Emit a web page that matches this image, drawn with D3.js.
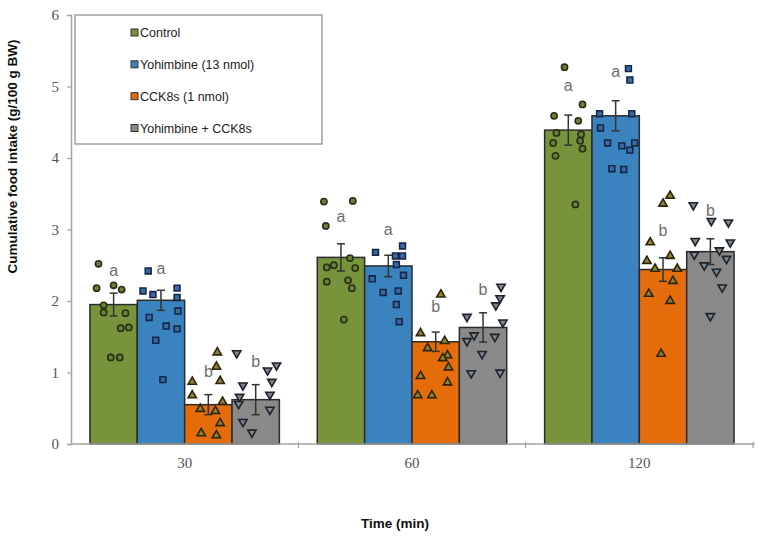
<!DOCTYPE html>
<html>
<head>
<meta charset="utf-8">
<script src="https://cdn.jsdelivr.net/npm/d3@7/dist/d3.min.js"></script>
<style>
  body { margin: 0; background: #fff; }
  svg { display: block; }
</style>
</head>
<body>
<svg id="chart" width="760" height="536"></svg>
<script>
// ---------------- DATA ----------------
const categories = ["30", "60", "120"];
const seriesNames = ["Control", "Yohimbine (13 nmol)", "CCK8s (1 nmol)", "Yohimbine + CCK8s"];
const yTicks = [0, 1, 2, 3, 4, 5, 6];

const controlMean = [1.95, 2.61, 4.39];
const yohimbineMean = [2.01, 2.49, 4.59];
const cck8sMean = [0.55, 1.43, 2.44];
const comboMean = [0.62, 1.63, 2.69];

const controlSem = [0.16, 0.19, 0.21];
const yohimbineSem = [0.14, 0.15, 0.21];
const cck8sSem = [0.14, 0.135, 0.165];
const comboSem = [0.21, 0.205, 0.18];

// individual animals per time point
const controlPoints = [
  [2.52, 2.18, 2.22, 2.16, 1.94, 1.84, 1.83, 1.62, 1.63, 1.21, 1.21],
  [3.39, 3.40, 3.05, 2.60, 2.47, 2.50, 2.46, 2.27, 2.29, 2.18, 1.74],
  [5.27, 4.75, 4.59, 4.52, 4.35, 4.33, 4.21, 4.24, 4.13, 4.03, 3.35]
];
const yohimbinePoints = [
  [2.42, 2.14, 2.09, 2.18, 2.05, 1.86, 1.77, 1.65, 1.61, 1.45, 0.90],
  [2.68, 2.77, 2.63, 2.63, 2.51, 2.36, 2.31, 2.12, 2.14, 1.95, 1.71],
  [5.25, 5.09, 4.62, 4.62, 4.42, 4.21, 4.17, 4.21, 4.11, 3.85, 3.84]
];
const cck8sPoints = [
  [1.28, 1.08, 0.87, 0.88, 0.68, 0.59, 0.49, 0.46, 0.29, 0.15, 0.12],
  [2.09, 1.55, 1.44, 1.34, 1.24, 1.20, 1.07, 0.95, 0.86, 0.68, 0.68],
  [3.47, 3.36, 2.82, 2.56, 2.63, 2.45, 2.45, 2.28, 2.10, 2.00, 1.26]
];
const comboPoints = [
  [1.27, 1.10, 1.03, 0.87, 0.82, 0.69, 0.66, 0.56, 0.48, 0.31, 0.16],
  [2.20, 2.04, 1.94, 1.78, 1.70, 1.52, 1.44, 1.50, 1.26, 0.99, 1.00],
  [3.34, 3.12, 3.10, 2.84, 2.82, 2.71, 2.65, 2.59, 2.50, 2.41, 2.19, 1.79]
];

// horizontal scatter of each point, as a fraction of its bar's width
const controlJitter = [
  [-0.32, -0.36, 0, 0.17, -0.21, -0.21, 0.25, 0.15, 0.32, -0.06, 0.13],
  [-0.36, 0.25, -0.32, 0.19, -0.30, -0.15, 0.30, -0.30, 0.15, 0.23, 0.06],
  [-0.08, 0.30, -0.30, 0.21, -0.25, 0.27, -0.32, 0.25, 0.30, -0.27, 0.15]
];
const yohimbineJitter = [
  [-0.27, -0.38, -0.17, 0.34, 0.34, 0.36, -0.25, 0.11, 0.34, -0.11, 0.04],
  [-0.27, 0.30, 0.15, 0.30, 0.17, 0.32, -0.34, -0.11, 0.21, 0.17, 0.23],
  [0.27, 0.30, -0.34, 0.34, -0.32, -0.17, 0.13, 0.40, 0.30, -0.08, 0.17]
];
const cck8sJitter = [
  [0.19, 0.17, -0.34, 0.25, -0.34, 0.30, -0.17, 0.15, 0.25, -0.15, 0.17],
  [0.11, -0.32, 0.19, -0.17, 0.25, 0.15, 0.27, -0.32, 0.25, -0.38, -0.08],
  [0.15, 0, -0.27, -0.34, 0.15, -0.17, 0.30, 0.21, -0.30, 0.15, -0.04]
];
const comboJitter = [
  [-0.40, 0.44, 0.25, 0.34, -0.27, 0.30, -0.34, -0.36, 0.30, -0.27, -0.08],
  [0.38, 0.36, 0.27, -0.34, 0.42, -0.19, -0.34, 0.25, -0.02, -0.25, 0.36],
  [-0.36, 0.02, 0.38, -0.32, 0.42, 0.19, -0.34, 0.34, -0.13, 0.13, 0.25, 0]
];

// significance letters and the value level at which they sit
const sigLetters = ["a", "a", "b", "b"];
const controlLetterAt = [2.41, 3.16, 5.00];
const yohimbineLetterAt = [2.43, 2.98, 5.19];
const cck8sLetterAt = [0.99, 1.90, 2.97];
const comboLetterAt = [1.13, 2.14, 3.24];

const yTitle = "Cumulative food intake (g/100 g BW)";
const xTitle = "Time (min)";

// ---------------- STYLE ----------------
const barColors = ["#77933c", "#3b83bf", "#e46c0a", "#898989"];
const markerFill = ["#6e7f3c", "#3a6aa2", "#8f8236", "#7a8794"];
const markerStroke = ["#263014", "#15264a", "#2e2508", "#1f2226"];
const markerShapes = ["circle", "square", "up", "down"];

const series = seriesNames.map((name, i) => ({
  name,
  mean: [controlMean, yohimbineMean, cck8sMean, comboMean][i],
  sem: [controlSem, yohimbineSem, cck8sSem, comboSem][i],
  points: [controlPoints, yohimbinePoints, cck8sPoints, comboPoints][i],
  jitter: [controlJitter, yohimbineJitter, cck8sJitter, comboJitter][i],
  letterAt: [controlLetterAt, yohimbineLetterAt, cck8sLetterAt, comboLetterAt][i],
  letter: sigLetters[i],
  idx: i
}));

// ---------------- CHART ----------------
const svg = d3.select("#chart");
const plotLeft = 71, plotRight = 753, plotTop = 15, plotBottom = 444;

const x0 = d3.scaleBand().domain(categories).range([plotLeft, plotRight])
  .paddingInner(0.1667).paddingOuter(0.0833);
const x1 = d3.scaleBand().domain(d3.range(seriesNames.length)).range([0, x0.bandwidth()]);
const y = d3.scaleLinear().domain([0, 6]).range([plotBottom, plotTop]);

const axisColor = "#a3a3a3";

// Bars
series.forEach(s => {
  svg.append("g").selectAll("rect")
    .data(categories.map((c, ci) => ({ c, v: s.mean[ci] })))
    .join("rect")
    .attr("x", d => x0(d.c) + x1(s.idx))
    .attr("y", d => y(d.v))
    .attr("width", x1.bandwidth())
    .attr("height", d => y(0) - y(d.v))
    .attr("fill", barColors[s.idx])
    .attr("stroke", "#2b2b2b")
    .attr("stroke-width", 1.5);
});

// Axes
const yAxis = d3.axisLeft(y).tickValues(yTicks).tickSize(4).tickPadding(8).tickFormat(d3.format("d"));
const gy = svg.append("g").attr("transform", `translate(${plotLeft},0)`).call(yAxis);
gy.select(".domain").attr("stroke", axisColor).attr("stroke-width", 1.5);
gy.selectAll(".tick line").attr("stroke", axisColor).attr("stroke-width", 1.2);
gy.selectAll(".tick text").attr("fill", "#555").attr("font-family", "'Liberation Serif', 'Times New Roman', serif").attr("font-size", 15);

// x axis: line, boundary ticks, and centered category labels
svg.append("line").attr("x1", plotLeft).attr("x2", plotRight + 2).attr("y1", y(0)).attr("y2", y(0))
  .attr("stroke", axisColor).attr("stroke-width", 1.5);
const boundaries = categories.map(c => x0(c) - x0.step() * x0.paddingInner() / 2).slice(1).concat([plotRight]);
svg.append("g").selectAll("line").data(boundaries).join("line")
  .attr("x1", d => d).attr("x2", d => d).attr("y1", y(0) - 2).attr("y2", y(0) + 4)
  .attr("stroke", axisColor).attr("stroke-width", 1.2);
svg.append("g").selectAll("text").data(categories).join("text")
  .attr("x", d => x0(d) + x0.bandwidth() / 2)
  .attr("y", y(0) + 24)
  .attr("text-anchor", "middle")
  .attr("fill", "#555")
  .attr("font-family", "'Liberation Serif', 'Times New Roman', serif")
  .attr("font-size", 15)
  .text(d => d);

// Individual points
const symFor = {
  circle: d3.symbol().type(d3.symbolCircle).size(30),
  square: d3.symbol().type(d3.symbolSquare).size(34),
  up: d3.symbol().type(d3.symbolTriangle).size(30)
};
series.forEach(s => {
  const pts = [];
  categories.forEach((c, ci) => {
    s.points[ci].forEach((v, k) => {
      pts.push({ cx: x0(c) + x1(s.idx) + x1.bandwidth() / 2 + s.jitter[ci][k] * x1.bandwidth(), v });
    });
  });
  const shape = markerShapes[s.idx];
  const gen = shape === "down" ? symFor.up : symFor[shape];
  svg.append("g").selectAll("path").data(pts).join("path")
    .attr("d", gen)
    .attr("transform", d => `translate(${d.cx},${y(d.v)})` + (shape === "down" ? " rotate(180)" : ""))
    .attr("fill", markerFill[s.idx])
    .attr("stroke", markerStroke[s.idx])
    .attr("stroke-width", 1.6);
});

// Error bars
series.forEach(s => {
  const g = svg.append("g").attr("stroke", "#333").attr("stroke-width", 1.5);
  categories.forEach((c, ci) => {
    const cx = x0(c) + x1(s.idx) + x1.bandwidth() / 2;
    const hi = y(s.mean[ci] + s.sem[ci]), lo = y(s.mean[ci] - s.sem[ci]);
    g.append("line").attr("x1", cx).attr("x2", cx).attr("y1", hi).attr("y2", lo);
    g.append("line").attr("x1", cx - 4).attr("x2", cx + 4).attr("y1", hi).attr("y2", hi);
    g.append("line").attr("x1", cx - 4).attr("x2", cx + 4).attr("y1", lo).attr("y2", lo);
  });
});

// Significance letters
series.forEach(s => {
  svg.append("g").selectAll("text").data(categories).join("text")
    .attr("x", (c) => x0(c) + x1(s.idx) + x1.bandwidth() / 2)
    .attr("y", (c, ci) => y(s.letterAt[ci]) + 4)
    .attr("text-anchor", "middle")
    .attr("fill", "#6e6e6e")
    .attr("font-family", "Arial, 'Liberation Sans', sans-serif")
    .attr("font-size", 16)
    .text(s.letter);
});

// Legend
const legend = svg.append("g");
legend.append("rect").attr("x", 75).attr("y", 15).attr("width", 247).attr("height", 129)
  .attr("fill", "#fff").attr("stroke", "#a0a0a0").attr("stroke-width", 1.5);
const legendY = d3.scalePoint().domain(seriesNames).range([32.5, 128]);
seriesNames.forEach((n, i) => {
  legend.append("rect").attr("x", 131).attr("y", legendY(n) - 3.5).attr("width", 7).attr("height", 7)
    .attr("fill", barColors[i]).attr("stroke", "#333").attr("stroke-width", 1);
  legend.append("text").attr("x", 140).attr("y", legendY(n) + 4.5)
    .attr("fill", "#222").attr("font-family", "Arial, 'Liberation Sans', sans-serif").attr("font-size", 12.5)
    .text(n);
});

// Axis titles
svg.append("text")
  .attr("transform", `translate(17, ${(20 + 293) / 2}) rotate(-90)`)
  .attr("text-anchor", "middle")
  .attr("fill", "#111")
  .attr("font-family", "Arial, 'Liberation Sans', sans-serif")
  .attr("font-weight", "bold")
  .attr("font-size", 13.5)
  .text(yTitle);
svg.append("text")
  .attr("x", 395).attr("y", 528)
  .attr("text-anchor", "middle")
  .attr("fill", "#111")
  .attr("font-family", "Arial, 'Liberation Sans', sans-serif")
  .attr("font-weight", "bold")
  .attr("font-size", 13.5)
  .text(xTitle);
</script>
</body>
</html>
